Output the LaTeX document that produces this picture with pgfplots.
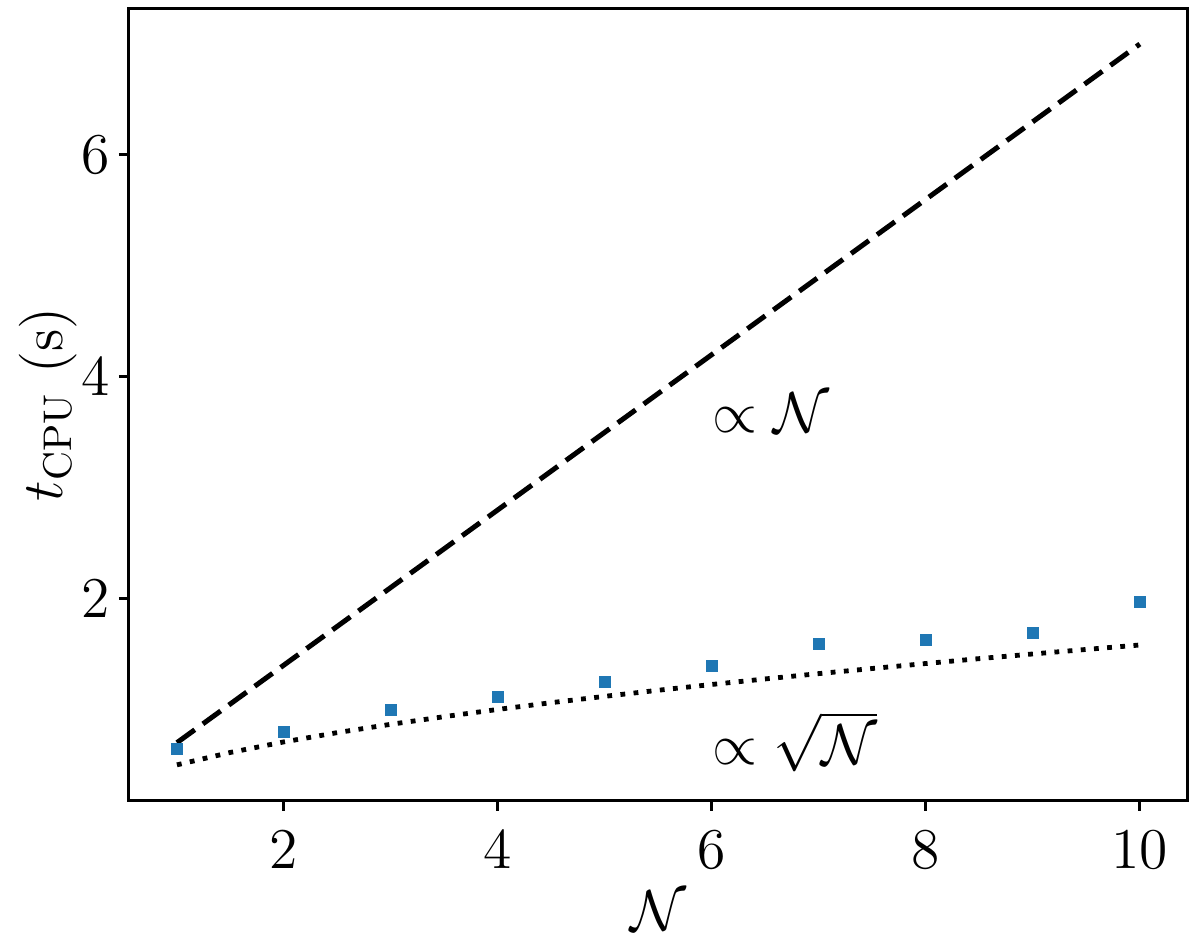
\documentclass[border=0pt]{standalone}
\usepackage{pgfplots}
\pgfplotsset{compat=1.18}
\definecolor{mplblue}{HTML}{1F77B4}
\begin{document}
\Large
\begin{tikzpicture}
\begin{axis}[
  scale only axis,
  width=264.5pt, height=198pt,
  xmin=0.55, xmax=10.45,
  ymin=0.175, ymax=7.325,
  xtick={2,4,6,8,10},
  ytick={2,4,6},
  xtick pos=bottom, ytick pos=left,
  tick align=outside,
  major tick length=2.5pt,
  tick style={black, line width=0.75pt},
  axis line style={line width=0.75pt},
  yticklabel style={xshift=2.7pt},
  xlabel={$\mathcal{N}$},
  ylabel={$t_{\mathrm{CPU}}$ (s)},
  xlabel style={yshift=4pt},
  ylabel style={yshift=-8.7pt},
  clip=false,
]
\addplot[black, line width=1.25pt, dash pattern=on 5.5pt off 2.5pt] coordinates {
  (1,0.7) (10,7.0)};
\addplot[black, line width=1.2pt, dash pattern=on 1.2pt off 2.1pt] coordinates {
  (1,0.500) (1.5,0.612) (2,0.707) (2.5,0.791) (3,0.866) (3.5,0.935)
  (4,1.000) (4.5,1.061) (5,1.118) (5.5,1.173) (6,1.225) (6.5,1.275)
  (7,1.323) (7.5,1.369) (8,1.414) (8.5,1.458) (9,1.500) (9.5,1.541)
  (10,1.581)};
\addplot[only marks, mark=square*, mark size=1.3pt, mplblue] coordinates {
  (1,0.643) (2,0.796) (3,0.993) (4,1.110) (5,1.245)
  (6,1.389) (7,1.587) (8,1.622) (9,1.685) (10,1.973)};
\node[anchor=base west, inner sep=0pt] at (axis cs:6,3.5) {$\propto\mathcal{N}$};
\node[anchor=base west, inner sep=0pt] at (axis cs:6,0.5) {$\propto\sqrt{\mathcal{N}}$};
\path (rel axis cs:1,1) ++(3pt,2pt);
\end{axis}
\end{tikzpicture}
\end{document}
